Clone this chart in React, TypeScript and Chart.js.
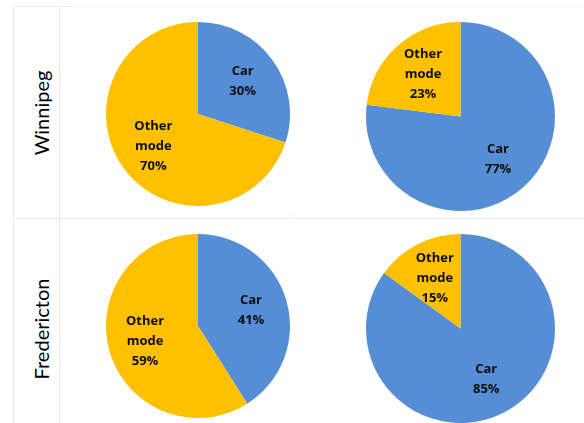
import React, { useEffect, useRef } from "react";
import { Chart, registerables } from "chart.js";

Chart.register(...registerables);

const categories = ["Car", "Other mode"];
const cities = ["Winnipeg", "Fredericton"];
const winnipegLeft = [30, 70];
const winnipegRight = [77, 23];
const frederictonLeft = [41, 59];
const frederictonRight = [85, 15];
const sliceColors = ["#558ED5", "#FFC000"];

const labelPlugin = {
  id: "sliceLabels",
  afterDatasetsDraw(chart: any) {
    const ctx = chart.ctx;
    const meta = chart.getDatasetMeta(0);
    const values: number[] = chart.data.datasets[0].data;
    const total = values.reduce((a, b) => a + b, 0);
    ctx.save();
    ctx.font = "bold 13px 'Open Sans'";
    ctx.fillStyle = "#0d0d0d";
    ctx.textAlign = "center";
    ctx.textBaseline = "middle";
    meta.data.forEach((arc: any, i: number) => {
      const p = arc.getProps(["x", "y", "startAngle", "endAngle", "outerRadius"], true);
      const mid = (p.startAngle + p.endAngle) / 2;
      const d = p.outerRadius * 0.6;
      const x = p.x + Math.cos(mid) * d;
      const y = p.y + Math.sin(mid) * d;
      const lines = String(chart.data.labels[i]).split(" ");
      lines.push(Math.round((values[i] / total) * 100) + "%");
      const lh = 20;
      const y0 = y - ((lines.length - 1) * lh) / 2;
      lines.forEach((t, k) => ctx.fillText(t, x, y0 + k * lh));
    });
    ctx.restore();
  },
};

function Pie({ values, left, top, size }: { values: number[]; left: number; top: number; size: number }) {
  const ref = useRef<HTMLCanvasElement>(null);
  useEffect(() => {
    if (!ref.current) return;
    const chart = new Chart(ref.current, {
      type: "pie",
      data: {
        labels: categories,
        datasets: [
          {
            data: values,
            backgroundColor: sliceColors,
            borderWidth: 0,
          },
        ],
      },
      options: {
        responsive: false,
        animation: false,
        devicePixelRatio: 1,
        layout: { padding: 0 },
        plugins: { legend: { display: false }, tooltip: { enabled: false } },
      },
      plugins: [labelPlugin],
    });
    return () => chart.destroy();
  }, [values]);
  return (
    <canvas
      ref={ref}
      width={size}
      height={size}
      style={{ position: "absolute", left, top, width: size, height: size }}
    />
  );
}

const lineColor = "#ebebeb";

export default function App() {
  return (
    <div
      style={{
        position: "fixed",
        left: 0,
        top: 0,
        width: 584,
        height: 423,
        background: "#ffffff",
        overflow: "hidden",
      }}
    >
      {/* table grid lines */}
      <div style={{ position: "absolute", left: 13, top: 6, width: 571, height: 1, background: "#f4f4f4" }} />
      <div style={{ position: "absolute", left: 13, top: 6, width: 57, height: 1, background: lineColor }} />
      <div style={{ position: "absolute", left: 13, top: 218, width: 571, height: 1, background: lineColor }} />
      <div style={{ position: "absolute", left: 13, top: 6, width: 1, height: 417, background: lineColor }} />
      <div style={{ position: "absolute", left: 59, top: 6, width: 1, height: 417, background: lineColor }} />
      <div style={{ position: "absolute", left: 290, top: 214, width: 1, height: 4, background: lineColor }} />

      {/* row labels */}
      {cities.map((c, i) => (
        <div
          key={c}
          style={{
            position: "absolute",
            left: 41,
            top: i === 0 ? 113 : 329,
            transform: "translate(-50%, -50%) rotate(-90deg)",
            whiteSpace: "nowrap",
            font: "20px Lato",
            color: "#000000",
            lineHeight: "24px",
          }}
        >
          {c}
        </div>
      ))}

      <Pie values={winnipegLeft} left={106} top={22} size={184} />
      <Pie values={winnipegRight} left={366} top={22} size={189} />
      <Pie values={frederictonLeft} left={106} top={234} size={184} />
      <Pie values={frederictonRight} left={366} top={234} size={189} />
    </div>
  );
}
